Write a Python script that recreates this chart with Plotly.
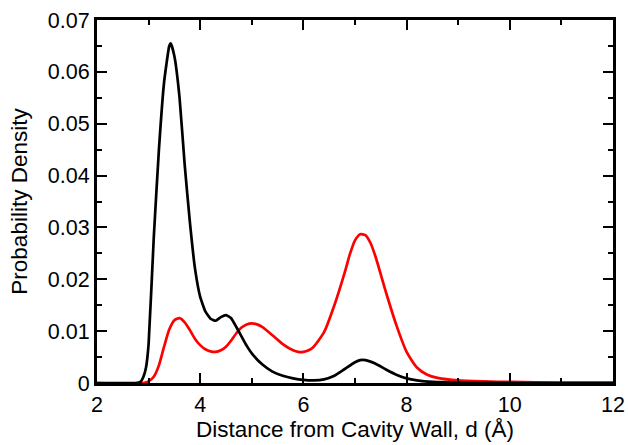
import plotly.graph_objects as go

d_black = [2.0, 2.75, 2.85, 2.9, 2.95, 3.0, 3.1, 3.2, 3.3, 3.4, 3.43, 3.5, 3.6, 3.7, 3.8,
           3.9, 4.0, 4.1, 4.2, 4.3, 4.4, 4.5, 4.6, 4.7, 4.8, 4.9, 5.0, 5.2, 5.4, 5.6, 5.8,
           6.0, 6.2, 6.4, 6.6, 6.8, 7.0, 7.1, 7.2, 7.4, 7.6, 7.8, 8.0, 8.2, 8.5, 9.0, 10.0,
           12.0]
p_black = [0, 0, 0.0003, 0.0012, 0.003, 0.0075, 0.028, 0.045, 0.058, 0.065, 0.0655, 0.063,
           0.055, 0.042, 0.031, 0.022, 0.0166, 0.0138, 0.0124, 0.0120, 0.0127, 0.0131,
           0.0125, 0.0108, 0.0090, 0.0072, 0.0057, 0.0036, 0.0022, 0.0014, 0.0009, 0.0006,
           0.0005, 0.0007, 0.0014, 0.0027, 0.0040, 0.0044, 0.0044, 0.0037, 0.0026, 0.0016,
           0.0009, 0.0005, 0.0002, 0.0001, 0, 0]

d_red = [2.0, 2.9, 3.0, 3.1, 3.2, 3.3, 3.4, 3.5, 3.6, 3.7, 3.8, 3.9, 4.0, 4.1, 4.2, 4.3,
         4.4, 4.5, 4.6, 4.7, 4.8, 4.9, 5.0, 5.1, 5.2, 5.4, 5.6, 5.8, 5.9, 6.0, 6.1, 6.2,
         6.4, 6.6, 6.8, 6.9, 7.0, 7.1, 7.2, 7.3, 7.4, 7.6, 7.8, 8.0, 8.2, 8.4, 8.6, 9.0,
         9.5, 10.0, 11.0, 12.0]
p_red = [0, 0, 0.0003, 0.0012, 0.0034, 0.0070, 0.0103, 0.0121, 0.0125, 0.0117, 0.0102,
         0.0085, 0.0073, 0.0065, 0.0061, 0.0060, 0.0063, 0.0070, 0.0082, 0.0096, 0.0107,
         0.0113, 0.0115, 0.0113, 0.0108, 0.0092, 0.0075, 0.0063, 0.0060, 0.0060, 0.0063,
         0.0070, 0.0098, 0.0150, 0.0213, 0.0248, 0.0275, 0.0287, 0.0285, 0.0270, 0.0243,
         0.0175, 0.0112, 0.0060, 0.0030, 0.0016, 0.0010, 0.0005, 0.0003, 0.0002, 0.0001,
         0.0001]

x_tickvals = [2, 4, 6, 8, 10, 12]
x_ticktext = ["2", "4", "6", "8", "10", "12"]
y_tickvals = [0, 0.01, 0.02, 0.03, 0.04, 0.05, 0.06, 0.07]
y_ticktext = ["0", "0.01", "0.02", "0.03", "0.04", "0.05", "0.06", "0.07"]

FONT = "Liberation Sans, Arial, sans-serif"
FS = 21.5
TFS = 22.5

fig = go.Figure()
fig.add_trace(go.Scatter(x=d_red, y=p_red, mode="lines",
                         line=dict(color="#ff0000", width=2.7, shape="spline", smoothing=0.6),
                         showlegend=False))
fig.add_trace(go.Scatter(x=d_black, y=p_black, mode="lines",
                         line=dict(color="black", width=2.7, shape="spline", smoothing=0.4),
                         showlegend=False))

axis_common = dict(showline=True, linecolor="black", linewidth=3, mirror="allticks",
                   ticks="inside", ticklen=10, tickwidth=2, tickcolor="black",
                   showgrid=False, zeroline=False, automargin=False,
                   ticklabeloverflow="allow",
                   tickfont=dict(family=FONT, size=FS, color="black"))

fig.update_layout(
    width=628, height=445,
    margin=dict(l=97, r=15, t=20, b=62),
    paper_bgcolor="white", plot_bgcolor="white",
    font=dict(family=FONT, size=FS, color="black"),
    xaxis=dict(range=[2, 12], tickmode="array", tickvals=x_tickvals, ticktext=x_ticktext,
               minor=dict(ticks="inside", ticklen=5, tickwidth=2, tickcolor="black", dtick=1),
               title=dict(text="Distance from Cavity Wall, d (Å)", standoff=5,
                          font=dict(family=FONT, size=TFS)),
               **axis_common),
    yaxis=dict(range=[0, 0.07], tickmode="array", tickvals=y_tickvals, ticktext=y_ticktext,
               minor=dict(ticks="inside", ticklen=5, tickwidth=2, tickcolor="black", dtick=0.005),
               title=dict(text="Probability Density", standoff=14, font=dict(family=FONT, size=TFS)),
               **axis_common),
)

fig.write_html("out.html", config={"displayModeBar": False},
               post_script="document.body.style.margin='0';")
